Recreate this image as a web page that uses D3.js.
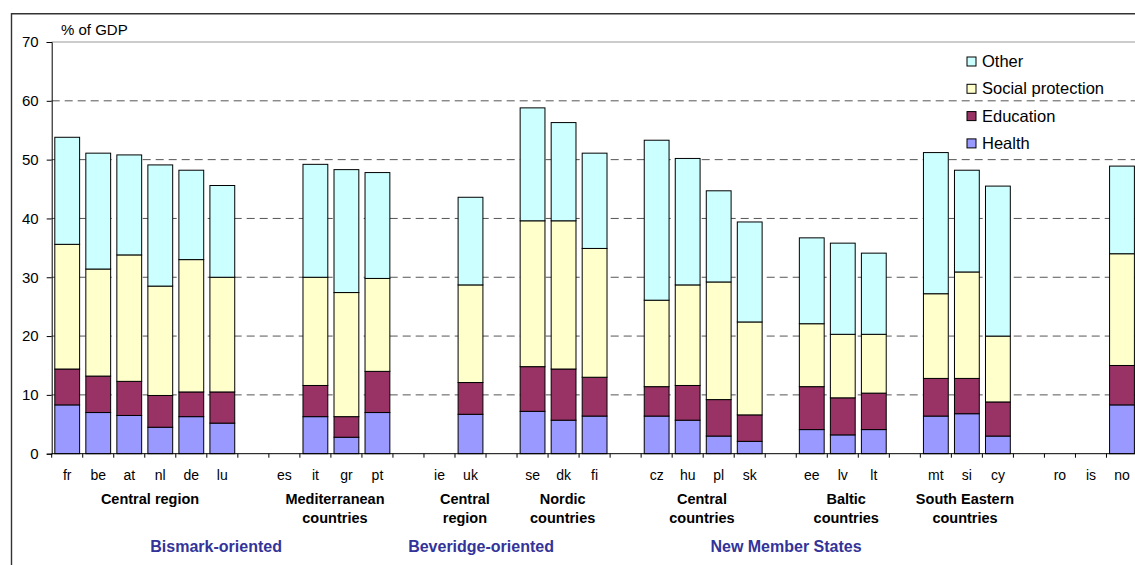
<!DOCTYPE html>
<html>
<head>
<meta charset="utf-8">
<script src="https://cdn.jsdelivr.net/npm/d3@7"></script>
<style>
  html, body { margin: 0; padding: 0; background: #fff; }
  svg { display: block; font-family: "Liberation Sans", Arial, sans-serif; }
</style>
</head>
<body>
<svg id="chart" width="1135" height="565"></svg>
<script>
// Category slots along the x axis ("" = empty spacer slot between groups)
const countries = ["fr","be","at","nl","de","lu","","es","it","gr","pt","","ie","uk","","se","dk","fi","","cz","hu","pl","sk","","ee","lv","lt","","mt","si","cy","","ro","is","no"];

// Spending components, % of GDP (null = no data)
const health = [8.3,7.0,6.5,4.5,6.3,5.2,null,null,6.3,2.8,7.0,null,null,6.7,null,7.2,5.7,6.4,null,6.4,5.7,3.0,2.1,null,4.1,3.2,4.1,null,6.4,6.8,3.0,null,null,null,8.3];
const education = [6.1,6.2,5.8,5.4,4.2,5.3,null,null,5.3,3.5,7.0,null,null,5.4,null,7.6,8.7,6.6,null,5.0,5.9,6.2,4.5,null,7.3,6.3,6.2,null,6.4,6.0,5.8,null,null,null,6.7];
const socialProtection = [21.2,18.2,21.5,18.6,22.5,19.5,null,null,18.4,21.1,15.8,null,null,16.6,null,24.8,25.2,21.9,null,14.7,17.1,20.0,15.8,null,10.7,10.8,10.0,null,14.4,18.1,11.2,null,null,null,19.0];
const other = [18.2,19.7,17.0,20.6,15.2,15.6,null,null,19.2,20.9,18.0,null,null,14.9,null,19.2,16.7,16.2,null,27.2,21.5,15.5,17.0,null,14.6,15.5,13.8,null,24.0,17.3,25.5,null,null,null,14.9];

const seriesNames = ["Health","Education","Social protection","Other"];
const seriesColors = ["#9999FF","#993366","#FFFFCC","#CCFFFF"];

const yTicks = [0,10,20,30,40,50,60,70];

// Regional group labels: text lines and centre position in slot units
const regionLabels = [
  { lines: ["Central region"], at: 2.67 },
  { lines: ["Mediterranean", "countries"], at: 8.63 },
  { lines: ["Central", "region"], at: 12.82 },
  { lines: ["Nordic", "countries"], at: 15.97 },
  { lines: ["Central", "countries"], at: 20.46 },
  { lines: ["Baltic", "countries"], at: 25.11 },
  { lines: ["South Eastern", "countries"], at: 28.94 }
];
const modelLabels = [
  { text: "Bismark-oriented", at: 4.80 },
  { text: "Beveridge-oriented", at: 13.34 },
  { text: "New Member States", at: 23.17 }
];

const svg = d3.select("#chart");
const W = 1135, H = 565;

const plot = { left: 51.7, right: 1137.5, top: 42, bottom: 453.7 };

const x = d3.scaleBand()
  .domain(d3.range(countries.length))
  .range([plot.left, plot.right])
  .paddingInner(0.2)
  .paddingOuter(0.1);
const step = x.step();
const slotX = i => plot.left + (i + 0.5) * step;

const y = d3.scaleLinear().domain([0, 70]).range([plot.bottom, plot.top]);

// Outer chart frame
svg.append("rect").attr("x", 0).attr("y", 0).attr("width", W).attr("height", H).attr("fill", "#fff");
svg.append("path")
  .attr("d", `M11.5,${H + 2}V13.8H${W + 2}`)
  .attr("fill", "none").attr("stroke", "#333").attr("stroke-width", 1.4);

// Gridlines
const grid = svg.append("g");
yTicks.filter(v => v > 0 && v < 70).forEach(v => {
  grid.append("line")
    .attr("x1", plot.left).attr("x2", W + 5)
    .attr("y1", y(v)).attr("y2", y(v))
    .attr("stroke", "#555").attr("stroke-width", 1)
    .attr("stroke-dasharray", "8,5");
});
grid.append("line")
  .attr("x1", plot.left).attr("x2", W + 5)
  .attr("y1", y(70)).attr("y2", y(70))
  .attr("stroke", "#999").attr("stroke-width", 1);

// Stacked bars
const rows = countries.map((c, i) => ({
  i, c,
  "Health": health[i], "Education": education[i],
  "Social protection": socialProtection[i], "Other": other[i]
})).filter(d => d.Health != null);

const stack = d3.stack().keys(seriesNames);
const layers = stack(rows);

svg.append("g").selectAll("g")
  .data(layers)
  .join("g")
  .attr("fill", (d, k) => seriesColors[k])
  .selectAll("rect")
  .data(d => d)
  .join("rect")
  .attr("x", d => x(d.data.i))
  .attr("width", x.bandwidth())
  .attr("y", d => y(d[1]))
  .attr("height", d => y(d[0]) - y(d[1]))
  .attr("stroke", "#000")
  .attr("stroke-width", 1);

// Y axis
const yAxis = d3.axisLeft(y).tickValues(yTicks).tickSize(5).tickPadding(8);
const yg = svg.append("g").attr("transform", `translate(${plot.left},0)`).call(yAxis);
yg.select(".domain").attr("stroke", "#000");
yg.selectAll(".tick line").attr("stroke", "#000");
yg.selectAll(".tick text")
  .attr("font-size", 15).attr("fill", "#000")
  .attr("font-family", "Liberation Sans, Arial, sans-serif");

svg.append("text")
  .attr("x", 61).attr("y", 34.5)
  .attr("font-size", 15).attr("fill", "#000")
  .text("% of GDP");

// X axis with ticks between categories
svg.append("line")
  .attr("x1", plot.left).attr("x2", W + 5)
  .attr("y1", plot.bottom).attr("y2", plot.bottom)
  .attr("stroke", "#000");
svg.append("g").selectAll("line")
  .data(d3.range(countries.length + 1))
  .join("line")
  .attr("x1", i => plot.left + i * step).attr("x2", i => plot.left + i * step)
  .attr("y1", plot.bottom).attr("y2", plot.bottom + 4)
  .attr("stroke", "#000");

svg.append("g").selectAll("text")
  .data(countries.map((c, i) => ({ c, i })).filter(d => d.c !== ""))
  .join("text")
  .attr("x", d => x(d.i) + x.bandwidth() / 2)
  .attr("y", 479.5)
  .attr("text-anchor", "middle")
  .attr("font-size", 14).attr("fill", "#000")
  .text(d => d.c);

// Region labels
const rg = svg.append("g");
regionLabels.forEach(r => {
  r.lines.forEach((line, k) => {
    rg.append("text")
      .attr("x", slotX(r.at))
      .attr("y", 503.5 + k * 19.5)
      .attr("text-anchor", "middle")
      .attr("font-size", 14.5).attr("font-weight", "bold").attr("fill", "#000")
      .text(line);
  });
});

// Welfare model labels
svg.append("g").selectAll("text")
  .data(modelLabels)
  .join("text")
  .attr("x", d => slotX(d.at))
  .attr("y", 552)
  .attr("text-anchor", "middle")
  .attr("font-size", 16).attr("font-weight", "bold").attr("fill", "#333399")
  .text(d => d.text);

// Legend (top entry = top of stack)
const legendOrder = ["Other","Social protection","Education","Health"];
const lg = svg.append("g");
legendOrder.forEach((name, k) => {
  const cy = 61 + k * 27.3;
  lg.append("rect")
    .attr("x", 967).attr("y", cy - 4)
    .attr("width", 9).attr("height", 9)
    .attr("fill", seriesColors[seriesNames.indexOf(name)])
    .attr("stroke", "#000").attr("stroke-width", 1);
  lg.append("text")
    .attr("x", 982).attr("y", cy + 6)
    .attr("font-size", 16.5).attr("fill", "#000")
    .text(name);
});
</script>
</body>
</html>
